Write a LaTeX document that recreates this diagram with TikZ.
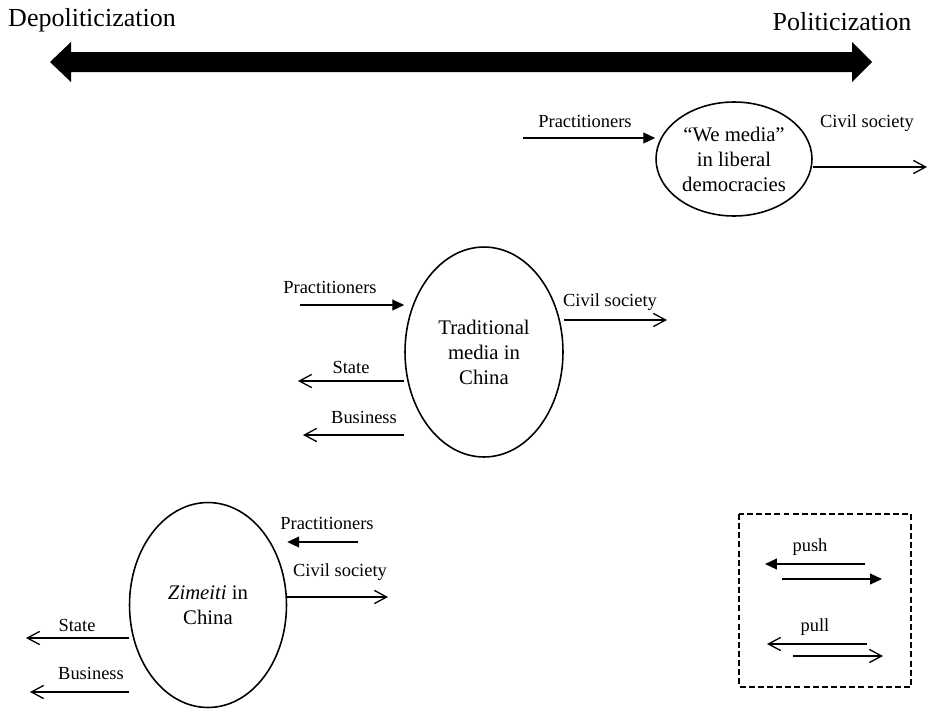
\documentclass[tikz,border=0pt]{standalone}
\usepackage{fontspec}
\setmainfont{Liberation Serif}
\usetikzlibrary{arrows.meta,shapes.geometric}

\begin{document}
\begin{tikzpicture}[x=0.02cm,y=-0.02cm,
    medium/.style={ellipse,draw,line width=0.9pt,inner sep=0pt,align=center,font=\fontsize{11.8}{14.2}\selectfont},
    lbl/.style={font=\fontsize{10.5}{12.6}\selectfont,inner sep=1pt},
    push/.style={line width=0.75pt,-{Triangle[length=6.8pt,width=6.2pt]}},
    pull/.style={line width=0.75pt,-{Straight Barb[length=7pt,width=7.5pt]}}]

    \useasboundingbox (0,0) rectangle (942,710);

    % politicization scale
    \node[font=\fontsize{14.8}{17.8}\selectfont] (depol) at (92,20) {Depoliticization};
    \node[font=\fontsize{14.8}{17.8}\selectfont] (pol) at (842,22) {Politicization};
    \fill (50,62) -- (71,42) -- (71,52) -- (852,52) -- (852,42) -- (872,62)
        -- (852,82) -- (852,72) -- (71,72) -- (71,82) -- cycle;

    %%%%%%%%%%%%%%%%%%%%%%%%%%%%%%%%%%%%%%%%%%%%%%%%%%%%%%

    % "we media" in liberal democracies
    \node[medium,minimum width=3.12cm,minimum height=2.28cm] (we) at (734,159) {“We media”\\in liberal\\democracies};

    % practitioners push
    \node[lbl] (wepracl) at (585,121) {Practitioners};
    \coordinate (weprac) at (523,138);
    \draw[push] (weprac) to (weprac -| we.west);

    % civil society pull
    \node[lbl] (wecivl) at (867,123) {Civil society};
    \coordinate (wecivil) at (927,167);
    \draw[pull] (wecivil -| we.east) to (wecivil);

    %%%%%%%%%%%%%%%%%%%%%%%%%%%%%%%%%%%%%%%%%%%%%%%%%%%%%%

    % traditional media in China
    \node[medium,minimum width=3.16cm,minimum height=4.2cm] (trad) at (484,352) {Traditional\\media in\\China};

    % practitioners push
    \node[lbl] (tradpracl) at (330,287) {Practitioners};
    \coordinate (tradprac) at (300,305);
    \draw[push] (tradprac) to (tradprac -| trad.west);

    % civil society pull
    \node[lbl] (tradcivl) at (610,302) {Civil society};
    \coordinate (tradcivil) at (667,320);
    \draw[pull] (tradcivil -| trad.east) to (tradcivil);

    % state pull
    \node[lbl] (tradstatel) at (351,367) {State};
    \coordinate (tradstate) at (298,381);
    \draw[pull] (tradstate -| trad.west) to (tradstate);

    % business pull
    \node[lbl] (tradbusl) at (364,417) {Business};
    \coordinate (tradbus) at (303,435);
    \draw[pull] (tradbus -| trad.west) to (tradbus);

    %%%%%%%%%%%%%%%%%%%%%%%%%%%%%%%%%%%%%%%%%%%%%%%%%%%%%%

    % zimeiti in China
    \node[medium,minimum width=3.14cm,minimum height=4.1cm] (zi) at (208,605) {\textit{Zimeiti} in\\China};

    % practitioners push
    \node[lbl] (zipracl) at (327,523) {Practitioners};
    \coordinate (ziprac) at (358,542);
    \draw[push] (ziprac) to (ziprac -| zi.east);

    % civil society pull
    \node[lbl] (zicivl) at (340,572) {Civil society};
    \coordinate (zicivil) at (388,597);
    \draw[pull] (zicivil -| zi.east) to (zicivil);

    % state pull
    \node[lbl] (zistatel) at (77,625) {State};
    \coordinate (zistate) at (26,638);
    \draw[pull] (zistate -| zi.west) to (zistate);

    % business pull
    \node[lbl] (zibusl) at (91,673) {Business};
    \coordinate (zibus) at (30,692);
    \draw[pull] (zibus -| zi.west) to (zibus);

    %%%%%%%%%%%%%%%%%%%%%%%%%%%%%%%%%%%%%%%%%%%%%%%%%%%%%%

    % legend
    \draw[dashed,line width=0.7pt,dash pattern=on 3.4pt off 1.8pt] (739,514) rectangle (911,687);

    % push
    \node[lbl] (pushl) at (810,547) {push};
    \coordinate (pushA) at (865,564);
    \coordinate (pushB) at (765,564);
    \coordinate (pushC) at (782,579);
    \coordinate (pushD) at (882,579);
    \draw[push] (pushA) to (pushB);
    \draw[push] (pushC) to (pushD);

    % pull
    \node[lbl] (pulll) at (815,627) {pull};
    \coordinate (pullA) at (867,644);
    \coordinate (pullB) at (767,644);
    \coordinate (pullC) at (793,656);
    \coordinate (pullD) at (883,656);
    \draw[pull] (pullA) to (pullB);
    \draw[pull] (pullC) to (pullD);

\end{tikzpicture}
\end{document}
